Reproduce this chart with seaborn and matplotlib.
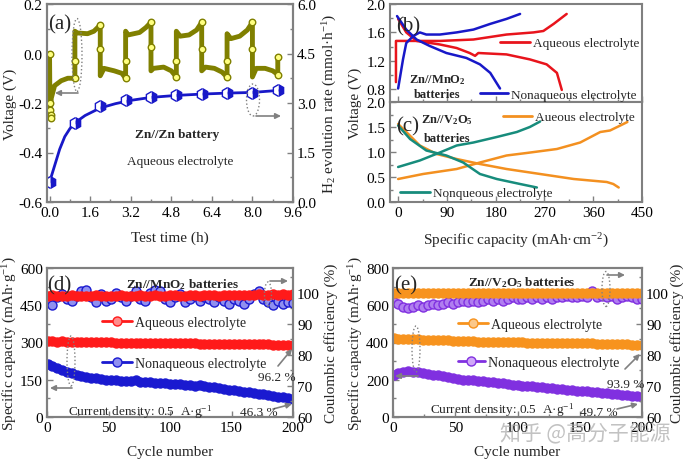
import matplotlib
matplotlib.use("Agg")
import matplotlib.pyplot as plt
from matplotlib.ticker import AutoMinorLocator, FormatStrFormatter, MultipleLocator
from matplotlib.patches import Ellipse, FancyArrowPatch
from matplotlib.lines import Line2D
import seaborn as sns

# ---------------- (a) Zn//Zn symmetric cell ----------------
volt_t = [0.0, 0.02, 0.04, 0.07, 0.2, 0.46, 0.72, 1.0,
          1.0, 1.1, 1.5, 1.75, 2.0,
          2.0, 2.15, 2.55, 2.85, 3.0,
          3.0, 3.1, 3.55, 3.8, 4.0,
          4.0, 4.1, 4.5, 4.8, 5.0,
          5.0, 5.15, 5.5, 5.8, 6.0,
          6.0, 6.15, 6.5, 6.8, 7.0,
          7.0, 7.15, 7.5, 7.8, 8.0,
          8.0, 8.15, 8.5, 8.8, 9.0, 9.0]
volt_v = [0.0, -0.26, -0.22, -0.18, -0.13, -0.11, -0.10, -0.10,
          0.09, 0.083, 0.08, 0.09, 0.115,
          -0.09, -0.06, -0.07, -0.08, -0.10,
          0.09, 0.075, 0.085, 0.105, 0.126,
          -0.07, -0.06, -0.055, -0.07, -0.095,
          0.09, 0.07, 0.075, 0.095, 0.126,
          -0.07, -0.055, -0.06, -0.075, -0.095,
          0.08, 0.06, 0.07, 0.095, 0.126,
          -0.095, -0.06, -0.06, -0.07, -0.085, -0.015]
mark_t = [0.0, 0.03, 0.03, 0.04, 0.05, 1.0, 1.0, 2.0, 2.0, 3.0, 3.0, 4.0, 4.0,
          5.0, 5.0, 6.0, 6.0, 7.0, 7.0, 8.0, 8.0, 9.0, 9.0]
mark_v = [0.0, -0.20, -0.23, -0.25, -0.26, -0.10, -0.03, 0.115, 0.02, -0.10, -0.03,
          0.126, 0.025, -0.095, -0.03, 0.126, 0.02, -0.095, -0.03, 0.126, 0.02,
          -0.085, -0.015]
h2_t = [0, 1, 2, 3, 4, 5, 6, 7, 8, 9]
h2_rate = [0.6, 2.39, 2.9, 3.1, 3.19, 3.23, 3.27, 3.29, 3.31, 3.39]
fit_t = [0, 0.2, 0.4, 0.6, 0.8, 1.0, 1.4, 2.0, 2.6, 3.2, 4, 5, 6, 7, 8, 9]
fit_rate = [0.6, 1.1, 1.6, 1.98, 2.22, 2.4, 2.62, 2.85, 2.98, 3.08, 3.17, 3.23,
            3.27, 3.3, 3.32, 3.38]

# ---------------- (b) Zn//MnO2 charge / discharge ----------------
mn_aq_chg_x = [-4, -4, 20, 77, 139, 200, 250, 268, 287, 311]
mn_aq_chg_v = [0.9, 1.48, 1.48, 1.48, 1.50, 1.57, 1.60, 1.62, 1.72, 1.86]
mn_aq_dis_x = [0, 15, 34, 77, 108, 132, 142, 148, 200, 243, 274, 293, 302]
mn_aq_dis_v = [1.79, 1.6, 1.48, 1.43, 1.38, 1.31, 1.27, 1.31, 1.29, 1.22, 1.15, 1.03, 0.79]
mn_non_chg_x = [0, 9, 15, 28, 40, 52, 77, 108, 139, 170, 200, 225]
mn_non_chg_v = [0.81, 1.22, 1.45, 1.55, 1.6, 1.57, 1.57, 1.6, 1.64, 1.72, 1.79, 1.86]
mn_non_dis_x = [-2, 15, 34, 58, 89, 126, 151, 170, 188]
mn_non_dis_v = [1.83, 1.64, 1.50, 1.41, 1.31, 1.24, 1.15, 1.03, 0.81]

# ---------------- (c) Zn//V2O5 charge / discharge ----------------
v_aq_chg_x = [0, 46, 108, 151, 200, 237, 293, 336, 373, 391, 410, 423]
v_aq_chg_v = [0.46, 0.56, 0.66, 0.79, 0.93, 0.98, 1.06, 1.19, 1.40, 1.43, 1.53, 1.60]
v_aq_dis_x = [0, 15, 40, 71, 108, 151, 200, 262, 324, 385, 397, 407]
v_aq_dis_v = [1.56, 1.40, 1.13, 0.96, 0.86, 0.76, 0.66, 0.56, 0.46, 0.40, 0.36, 0.29]
v_non_chg_x = [0, 40, 77, 108, 139, 182, 219, 243, 262]
v_non_chg_v = [0.70, 0.83, 0.99, 1.13, 1.19, 1.30, 1.40, 1.50, 1.61]
v_non_dis_x = [0, 22, 52, 89, 120, 151, 182, 225, 256]
v_non_dis_v = [1.53, 1.26, 1.03, 0.93, 0.79, 0.56, 0.46, 0.36, 0.29]

# ---------------- (d)/(e) cycling ----------------
cycles = [1, 4, 8, 12, 16, 20, 24, 28, 32, 36,
          40, 44, 48, 52, 56, 60, 64, 68, 72, 76,
          80, 84, 88, 92, 96, 100, 104, 108, 112, 116,
          120, 124, 128, 132, 136, 140, 144, 148, 152, 156,
          160, 164, 168, 172, 176, 180, 184, 188, 192, 196, 200]
cap_aq_d = [305, 305, 304, 305, 304, 304, 303, 303, 303, 302,
            302, 302, 301, 301, 300, 300, 300, 299, 299, 298,
            298, 298, 297, 297, 297, 297, 296, 296, 296, 296,
            296, 295, 295, 295, 295, 294, 294, 294, 294, 293,
            293, 293, 293, 292, 292, 292, 291, 291, 291, 290, 290]
cap_non_d = [212, 205, 196, 189, 182, 176, 170, 166, 162, 159,
             156, 153, 151, 149, 147, 146, 145, 145, 148, 142,
             141, 140, 138, 137, 135, 134, 132, 131, 129, 127,
             126, 127, 123, 121, 119, 116, 113, 110, 107, 105,
             102, 99, 97, 94, 91, 88, 85, 82, 79, 76, 73]
ce_aq_d = [99.0, 99.2, 98.9, 99.1, 99.0, 99.2, 99.1, 98.9, 99.0, 99.1,
           99.2, 99.0, 99.1, 98.9, 99.0, 99.2, 99.1, 99.0, 99.1, 99.2,
           99.0, 99.1, 99.2, 99.0, 99.1, 99.3, 99.2, 99.1, 99.0, 99.2,
           99.3, 99.1, 99.2, 99.3, 99.2, 99.1, 99.3, 99.2, 99.4, 99.3,
           99.2, 99.4, 99.3, 99.5, 99.4, 99.3, 99.5, 99.4, 99.5, 99.4, 99.5]
ce_non_d = [97.5, 96.0, 98.5, 99.5, 98.0, 97.5, 99.0, 100.5, 101.0, 98.5,
            97.0, 99.5, 97.5, 98.0, 100.0, 98.5, 97.5, 99.0, 100.5, 98.0,
            97.5, 100.0, 101.0, 100.5, 98.0, 97.0, 98.5, 99.5, 97.0, 98.0,
            99.0, 97.5, 98.5, 98.0, 97.0, 98.5, 97.5, 96.5, 98.0, 97.5,
            96.5, 98.0, 99.5, 100.5, 98.0, 97.0, 96.0, 97.5, 96.5, 97.0, 96.8]
cap_aq_e = [422, 421, 420, 419, 418, 417, 416, 415, 414, 413,
            412, 411, 410, 409, 408, 407, 406, 405, 405, 404,
            404, 403, 403, 402, 402, 401, 401, 400, 400, 400,
            399, 399, 398, 398, 398, 397, 397, 396, 396, 395,
            395, 394, 394, 393, 393, 392, 391, 390, 389, 388, 387]
cap_non_e = [228, 236, 242, 245, 244, 240, 236, 232, 228, 224,
             220, 215, 209, 205, 201, 198, 196, 194, 191, 188,
             186, 183, 180, 177, 174, 172, 169, 167, 164, 162,
             160, 158, 155, 152, 149, 146, 143, 141, 139, 137,
             135, 133, 131, 128, 125, 122, 119, 116, 114, 112, 108]
ce_aq_e = [99.8, 100.0, 99.9, 100.1, 99.9, 100.0, 99.8, 99.9, 100.0, 100.1,
           99.9, 100.0, 100.1, 99.9, 99.8, 100.0, 99.9, 100.1, 100.0, 99.9,
           100.0, 99.9, 100.1, 100.0, 99.8, 99.9, 100.0, 100.1, 99.9, 100.0,
           99.9, 100.1, 100.0, 99.9, 100.0, 99.8, 100.0, 100.1, 99.9, 100.0,
           100.1, 99.9, 100.0, 99.9, 100.1, 100.0, 99.8, 99.9, 100.0, 99.9, 100.0]
ce_non_e = [97.0, 96.5, 95.5, 95.0, 95.5, 96.0, 95.5, 96.0, 96.5, 96.0,
            96.5, 97.0, 96.5, 97.0, 97.5, 97.0, 97.5, 97.0, 97.5, 98.0,
            97.5, 98.0, 97.5, 98.0, 98.5, 98.0, 98.0, 98.5, 98.0, 98.5,
            98.0, 98.5, 98.0, 98.5, 98.5, 99.0, 98.5, 98.5, 99.0, 98.5,
            100.5, 98.5, 99.0, 98.5, 99.0, 98.0, 98.5, 99.0, 98.5, 98.0, 98.0]

# colours
GRAY = "#808080"
OLIVE = "#808000"
YELLOW = "#ffff80"
BLUE = "#1818c8"
RED = "#e8141c"
ORANGE = "#f39020"
TEAL = "#178c7c"
RED_D, RED_L = "#ff1a1a", "#ff8c8c"
BLUE_D, BLUE_L = "#1a1ad0", "#9090f0"
ORA_D, ORA_L = "#f7931e", "#fbc88a"
PUR_D, PUR_L = "#8030e0", "#d0a8f8"

sns.set_theme(style="ticks")
plt.rcParams["font.family"] = ["Liberation Serif", "DejaVu Sans"]
plt.rcParams["mathtext.fontset"] = "custom"
plt.rcParams["mathtext.rm"] = "Liberation Serif"
plt.rcParams["mathtext.it"] = "Liberation Serif:italic"
plt.rcParams["mathtext.bf"] = "Liberation Serif:bold"

W, H = 685, 464
fig = plt.figure(figsize=(W / 100, H / 100), dpi=100)
fig.patch.set_facecolor("white")


def rect(l, t, r, b):
    return [l / W, 1 - b / H, (r - l) / W, (b - t) / H]


def P(x, y):
    return (x / W, 1 - y / H)


def frame(ax):
    for s in ax.spines.values():
        s.set_color(GRAY)
        s.set_linewidth(1.5)
    ax.tick_params(which="both", direction="in", color=GRAY, labelcolor="black",
                   labelsize=11, width=1.0, pad=3)
    ax.tick_params(which="major", length=4)
    ax.tick_params(which="minor", length=2)
    ax.xaxis.set_minor_locator(AutoMinorLocator(2))
    ax.yaxis.set_minor_locator(AutoMinorLocator(2))
    ax.grid(False)


ax_a = fig.add_axes(rect(47, 5, 293, 203))
ax_b = fig.add_axes(rect(390, 5, 642, 103))
ax_c = fig.add_axes(rect(390, 103, 642, 203))
ax_d = fig.add_axes(rect(47, 269, 293, 418))
ax_e = fig.add_axes(rect(393, 269, 642, 418))

# ---- (a)
sns.lineplot(x=volt_t, y=volt_v, ax=ax_a, sort=False, estimator=None,
             color=OLIVE, lw=3.5, legend=False)
sns.scatterplot(x=mark_t, y=mark_v, ax=ax_a, s=22, color=YELLOW,
                edgecolor=OLIVE, linewidth=1, zorder=3, legend=False)
ax_a2 = ax_a.twinx()
sns.lineplot(x=fit_t, y=fit_rate, ax=ax_a2, sort=False, estimator=None,
             color=BLUE, lw=2, legend=False)
sns.lineplot(x=h2_t, y=h2_rate, ax=ax_a2, sort=False, estimator=None, lw=0,
             marker="h", markersize=8.5, color=BLUE, markerfacecolor=BLUE,
             markerfacecoloralt="white", fillstyle="right",
             markeredgecolor=BLUE, markeredgewidth=1, legend=False)
ax_a.set_xlim(-0.1, 9.6)
ax_a.set_ylim(-0.6, 0.2)
ax_a2.set_ylim(0, 6.0)
ax_a.set_xticks([0, 1.6, 3.2, 4.8, 6.4, 8.0, 9.6])
ax_a.set_yticks([-0.6, -0.4, -0.2, 0.0, 0.2])
ax_a2.set_yticks([0, 1.5, 3.0, 4.5, 6.0])
for ax in (ax_a, ax_a2):
    frame(ax)
ax_a.xaxis.set_major_formatter(FormatStrFormatter("%.1f"))
ax_a.yaxis.set_major_formatter(FormatStrFormatter("%.1f"))
ax_a2.yaxis.set_major_formatter(FormatStrFormatter("%.1f"))
ax_a.set_xlabel("Test time (h)", fontsize=11, labelpad=8)
ax_a.set_ylabel("Voltage (V)", fontsize=11, labelpad=1)
ax_a2.set_ylabel(r"H$_2$ evolution rate (mmol·h$^{-1}$)", fontsize=11, labelpad=3)

# ---- (b)
for xs, ys, c in [(mn_aq_chg_x, mn_aq_chg_v, RED), (mn_aq_dis_x, mn_aq_dis_v, RED),
                  (mn_non_chg_x, mn_non_chg_v, BLUE), (mn_non_dis_x, mn_non_dis_v, BLUE)]:
    sns.lineplot(x=xs, y=ys, ax=ax_b, sort=False, estimator=None, color=c, lw=1.8,
                 legend=False)
ax_b.set_xlim(-15, 450)
ax_b.set_ylim(0.62, 2.0)
ax_b.set_xticks([0, 90, 180, 270, 360, 450])
ax_b.set_yticks([0.8, 1.2, 1.6, 2.0])
frame(ax_b)
ax_b.yaxis.set_major_formatter(FormatStrFormatter("%.1f"))
ax_b.tick_params(labelbottom=False)

# ---- (c)
for xs, ys, c in [(v_aq_chg_x, v_aq_chg_v, ORANGE), (v_aq_dis_x, v_aq_dis_v, ORANGE),
                  (v_non_chg_x, v_non_chg_v, TEAL), (v_non_dis_x, v_non_dis_v, TEAL)]:
    sns.lineplot(x=xs, y=ys, ax=ax_c, sort=False, estimator=None, color=c, lw=1.8,
                 legend=False)
ax_c.set_xlim(-15, 450)
ax_c.set_ylim(0, 2.0)
ax_c.set_xticks([0, 90, 180, 270, 360, 450])
ax_c.set_yticks([0, 0.5, 1.0, 1.5, 2.0])
frame(ax_c)
ax_c.yaxis.set_major_formatter(FormatStrFormatter("%.1f"))
ax_c.set_xlabel(r"Specific capacity (mAh·cm$^{-2}$)", fontsize=11, labelpad=8)
fig.text(*P(355, 103), "Voltage (V)", rotation=90, ha="center", va="center",
         fontsize=11)


# ---- (d) / (e)
def cycling(ax, cap_a, cap_n, ce_a, ce_n, ca, cn, ce_face, ymax, ystep, rpad):
    ax2 = ax.twinx()
    mk = dict(marker="o", markersize=6.5, markeredgewidth=1, lw=1, sort=False,
              estimator=None, legend=False)
    sns.lineplot(x=cycles, y=ce_n, ax=ax2, color=cn[0], markerfacecolor=ce_face,
                 markeredgecolor=cn[0], **mk)
    sns.lineplot(x=cycles, y=ce_a, ax=ax2, color=ca[0], markerfacecolor=ca[0],
                 markeredgecolor=ca[0], **mk)
    sns.lineplot(x=cycles, y=cap_a, ax=ax, color=ca[0], markerfacecolor=ca[0],
                 markeredgecolor=ca[0], **mk)
    sns.lineplot(x=cycles, y=cap_n, ax=ax, color=cn[0], markerfacecolor=cn[0],
                 markeredgecolor=cn[0], **mk)
    ax.set_xlim(0, 200)
    ax.set_ylim(0, ymax)
    ax.set_xticks([0, 50, 100, 150, 200])
    ax.yaxis.set_major_locator(MultipleLocator(ystep))
    ax2.set_ylim(60, 108)
    ax2.set_yticks([60, 70, 80, 90, 100])
    frame(ax)
    frame(ax2)
    ax.set_xlabel("Cycle number", fontsize=11, labelpad=8)
    ax.set_ylabel(r"Specific capacity (mAh·g$^{-1}$)", fontsize=11, labelpad=1)
    ax2.set_ylabel("Coulombic efficiency (%)", fontsize=11, labelpad=rpad)
    return ax2


cycling(ax_d, cap_aq_d, cap_non_d, ce_aq_d, ce_non_d, (RED_D, RED_L),
        (BLUE_D, BLUE_L), BLUE_L, 600, 150, 3)
cycling(ax_e, cap_aq_e, cap_non_e, ce_aq_e, ce_non_e, (ORA_D, ORA_L),
        (PUR_D, PUR_L), "#b07ef0", 800, 200, 0.5)


# ---- annotations
def txt(x, y, s, size=9.5, bold=False, ha="center", **kw):
    fig.text(*P(x, y), s, fontsize=size, ha=ha, va="center_baseline",
             fontweight="bold" if bold else "normal", **kw)


def key(x0, x1, y, color, label, face=None, size=9.5):
    xm = (x0 + x1) / 2
    ln = Line2D([x0 / W, xm / W, x1 / W], [1 - y / H] * 3, transform=fig.transFigure,
                color=color, lw=2, marker="o" if face else None, markevery=[1],
                markersize=6.5, markerfacecolor=face, markeredgecolor=color)
    fig.add_artist(ln)
    txt(x1 + 3, y, label, size=size, ha="left")


def ring(cx, cy, w, h):
    fig.add_artist(Ellipse(P(cx, cy), w / W, h / H, transform=fig.transFigure,
                           fill=False, ls=":", ec=GRAY, lw=1))


def arrow(x0, y0, x1, y1):
    fig.add_artist(FancyArrowPatch(P(x0, y0), P(x1, y1), transform=fig.transFigure,
                                   arrowstyle="-|>", mutation_scale=8, color=GRAY,
                                   lw=1.2, shrinkA=0, shrinkB=0))


txt(60, 22, "(a)", size=15)
txt(177, 134, "Zn//Zn battery", bold=True)
txt(180, 161, "Aqueous electrolyte")
ring(77, 56, 10, 73)
arrow(78, 94, 55, 94)
ring(253, 101, 13, 32)
arrow(256, 117, 281, 117)

txt(408, 24, "(b)", size=15)
txt(437, 78, r"Zn//MnO$_\mathbf{2}$", size=9, bold=True)
txt(437, 93, "batteries", size=9, bold=True)
key(500, 530, 43, RED, "Aqueous electrolyte", size=9.5)
key(480, 508, 94, BLUE, "Nonaqueous electrolyte", size=9.5)

txt(408, 124, "(c)", size=15)
txt(447, 118, r"Zn//V$_\mathbf{2}$O$_\mathbf{5}$", size=9, bold=True)
txt(447, 138, "batteries", size=9, bold=True)
key(503, 532, 117, ORANGE, "Aueous electrolyte", size=9.5)
key(400, 430, 193, TEAL, "Nonqueous electrolyte", size=9.5)

txt(59, 283, "(d)", size=15)
txt(182, 283, r"Zn//MnO$_\mathbf{2}$ batteries", bold=True)
key(102, 132, 322, RED_D, "Aqueous electrolyte", face=RED_L, size=10)
key(102, 132, 363, BLUE_D, "Nonaqueous electrolyte", face=BLUE_L, size=10)
txt(68, 410, r"Current density: 0.5  A·g$^{-1}$", ha="left")
txt(258, 377, "96.2 %", ha="left")
txt(240, 412, "46.3 %", ha="left")
ring(71, 362, 8, 50)
arrow(72, 389, 50, 389)
ring(268, 295, 7, 24)
arrow(270, 282, 288, 282)
arrow(278, 367, 292, 350)
arrow(273, 410, 292, 405)

txt(406, 283, "(e)", size=15)
txt(522, 281, r"Zn//V$_\mathbf{2}$O$_\mathbf{5}$ batteries", bold=True)
key(458, 488, 324, ORA_D, "Aqueous electrolyte", face=ORA_L, size=10)
key(458, 485, 362, PUR_D, "Nonaqueous electrolyte", face=PUR_L, size=10)
txt(430, 408, r"Current density: 0.5  A·g$^{-1}$", ha="left")
txt(607, 384, "93.9 %", ha="left")
txt(580, 412, "49.7 %", ha="left")
ring(416, 350, 8, 46)
arrow(418, 377, 395, 377)
ring(606, 290, 8, 35)
arrow(607, 276, 625, 276)
arrow(625, 370, 640, 355)
arrow(617, 410, 638, 405)

fig.text(*P(585, 434), "知乎 @高分子能源", fontsize=15, color="#a8a8a8", alpha=0.7,
         ha="center", va="center", family=["Noto Sans CJK SC", "DejaVu Sans"])

fig.savefig("out.png", dpi=100)
